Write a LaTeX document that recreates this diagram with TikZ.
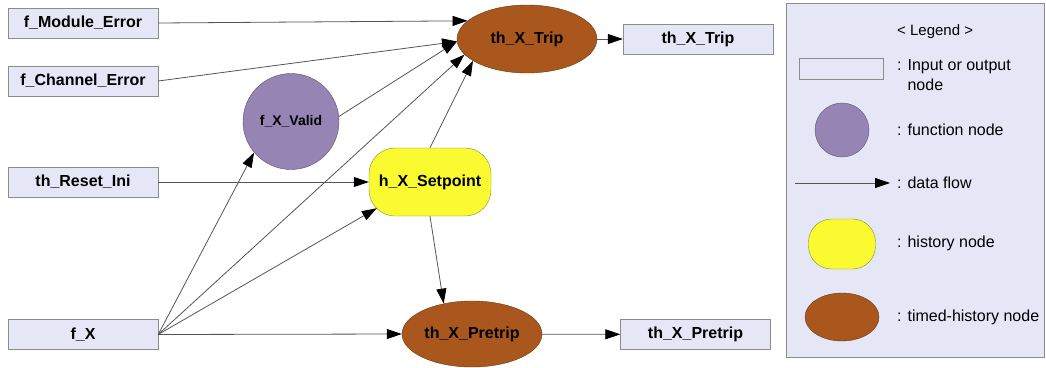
\documentclass[tikz,border=0pt]{standalone}
\usepackage{fontspec}
\setmainfont{Liberation Sans}
\usetikzlibrary{arrows.meta,shapes.geometric}
\definecolor{boxfill}{HTML}{E5E7F7}
\definecolor{boxline}{HTML}{8C8C8C}
\definecolor{funcfill}{HTML}{9684B5}
\definecolor{funcline}{HTML}{5E5470}
\definecolor{histfill}{HTML}{FAFA30}
\definecolor{histline}{HTML}{8A8A40}
\definecolor{timedfill}{HTML}{AA571D}
\definecolor{timedline}{HTML}{6A3A15}
\definecolor{edgecol}{HTML}{555555}
\begin{document}
\begin{tikzpicture}[x=1pt,y=-1pt,
  bfont/.style={font=\fontsize{16}{19}\selectfont\bfseries},
  iobox/.style={draw=boxline, fill=boxfill, minimum width=150pt, minimum height=30pt, inner sep=0pt, bfont},
  timed/.style={ellipse, draw=timedline, fill=timedfill, minimum width=140pt, minimum height=68pt, inner sep=0pt, bfont},
  func/.style={circle, draw=funcline, fill=funcfill, minimum size=96pt, inner sep=0pt, font=\fontsize{14}{17}\selectfont\bfseries},
  hist/.style={rectangle, rounded corners=26pt, draw=histline, fill=histfill, minimum width=122pt, minimum height=68pt, inner sep=0pt, bfont},
  flow/.style={draw=edgecol, line width=0.8pt, -{Triangle[length=15pt,width=10pt,color=black]}},
  legtext/.style={anchor=west, inner sep=0pt, font=\fontsize{16}{20}\selectfont, align=left}
]
\useasboundingbox (0,0) rectangle (1046,367);

% main nodes
\node[iobox] (fMod) at (83,23) {f\_Module\_Error};
\node[iobox] (fChan) at (83,81) {f\_Channel\_Error};
\node[iobox] (reset) at (83,182) {th\_Reset\_Ini};
\node[iobox] (fX) at (83,334.5) {f\_X};
\node[timed] (trip) at (527,39) {th\_X\_Trip};
\node[iobox] (tripOut) at (698,39) {th\_X\_Trip};
\node[func] (valid) at (291,121.5) {f\_X\_Valid};
\node[hist] (setp) at (430,182) {h\_X\_Setpoint};
\node[timed, minimum height=66pt] (pretrip) at (472,334) {th\_X\_Pretrip};
\node[iobox] (pretripOut) at (695.5,334.5) {th\_X\_Pretrip};

% connectors
\draw[flow] (fMod.east) -- (trip.163);
\draw[flow] (fChan.east) -- (trip.182);
\draw[flow] (valid.6) -- (trip.182);
\draw[flow] (fX.east) -- (trip.194);
\draw[flow] (setp.north) -- (trip.202);
\draw[flow] (trip) -- (tripOut);
\draw[flow] (reset) -- (setp);
\draw[flow] (fX.east) -- (valid.220);
\draw[flow] (fX.east) -- ([shift={(8,-8)}]setp.south west);
\draw[flow] (fX.east) -- (pretrip.west);
\draw[flow] (setp.south) -- (pretrip.133);
\draw[flow] (pretrip) -- (pretripOut);

% legend
\node[draw=boxline, fill=boxfill, minimum width=258pt, minimum height=354pt, inner sep=0pt] (legend) at (915,180) {};
\node[legtext, font=\fontsize{15}{18}\selectfont] (legtitle) at (897,32) {< Legend >};
\node[draw=boxline, fill=boxfill, minimum width=84pt, minimum height=21pt, inner sep=0pt] (lgbox) at (841,68.5) {};
\node[legtext] (lgboxtxt) at (897,75) {: Input or output\\\phantom{: }node};
\node[circle, draw=funcline, fill=funcfill, minimum size=54pt, inner sep=0pt] (lgfunc) at (842,130) {};
\node[legtext] (lgfunctxt) at (897,130) {: function node};
\coordinate (lgA) at (795,183);
\coordinate (lgB) at (890,183);
\draw[flow] (lgA) -- (lgB);
\node[legtext] (lgflowtxt) at (897,183) {: data flow};
\node[rectangle, rounded corners=23pt, draw=histline, fill=histfill, minimum width=67pt, minimum height=50pt, inner sep=0pt] (lghist) at (842,244) {};
\node[legtext] (lghisttxt) at (897,243) {: history node};
\node[ellipse, draw=timedline, fill=timedfill, minimum width=74pt, minimum height=48pt, inner sep=0pt] (lgtimed) at (842,317) {};
\node[legtext] (lgtimedtxt) at (897,317) {: timed-history node};
\end{tikzpicture}
\end{document}
